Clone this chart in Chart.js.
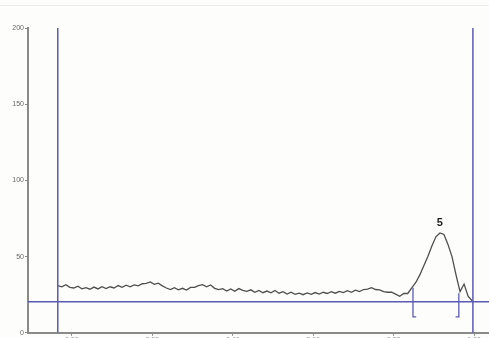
<!DOCTYPE html>
<html>
<head>
<meta charset="utf-8">
<script src="https://cdn.jsdelivr.net/npm/chart.js@4"></script>
<style>
  html, body { margin: 0; padding: 0; background: #fdfdfb; }
  #wrap { width: 489px; height: 338px; }
</style>
</head>
<body>
<div id="wrap"><canvas id="chart" width="489" height="338"></canvas></div>
<script>
// signal trace, sampled every 0.01 starting at the left marker
const traceStart = -0.035;
const traceStep = 0.01;
const traceY = [
  31, 30.2, 31.6, 29.8, 29.4, 30.6, 28.8, 29.6, 28.6, 30,
  28.8, 30.2, 29, 30.2, 29.4, 31, 29.8, 31.2, 30.2, 31.4,
  30.8, 32.2, 32.4, 33.4, 31.8, 32.6, 30.8, 29.4, 28.4, 29.6,
  28.2, 29.2, 28, 29.8, 29.8, 31, 31.6, 30.2, 31.4, 29.2,
  28.4, 29, 27.4, 28.8, 27.2, 29, 27.8, 27.2, 28.2, 26.6,
  27.8, 26.3, 27.4, 26.2, 27.8, 26, 27, 25.4, 26.6, 25.2,
  26, 25, 26.2, 25.2, 26.4, 25.4, 26.6, 25.8, 27, 26,
  27.2, 26.4, 27.6, 26.6, 28, 27, 28.4, 28.6, 29.6, 28.4,
  28.2, 27, 26.6, 26.6, 25.4, 24, 25.8, 25.8, 29.5, 33,
  38, 44, 50, 57, 63, 65.5, 64.5, 58, 50, 38,
  27, 32, 24, 21
];

const xTicks = [0, 0.2, 0.4, 0.6, 0.8, 1.0];
const yTicks = [0, 50, 100, 150, 200];
const xMin = -0.109, xMax = 1.037;

const baselineLevel = 20.4;
const markerX = [-0.035, 0.997];
const leftBracket = [[0.848, 29.5], [0.848, 10.5], [0.856, 10.5]];
const rightBracket = [[0.962, 26], [0.962, 10.5], [0.954, 10.5]];
const peakLabel = '5';
const peakIndex = 95;

const blue = '#5a5ab4';
const axisGray = '#8a8a8a';

const tracePts = traceY.map((v, i) => ({ x: traceStart + i * traceStep, y: v }));
const toPts = arr => arr.map(p => ({ x: p[0], y: p[1] }));

const lineSet = (data, color, width) => ({
  data: data, borderColor: color, borderWidth: width,
  pointRadius: 0, tension: 0, fill: false
});

const peakPlugin = {
  id: 'peakLabel',
  afterDatasetsDraw(chart) {
    const ctx = chart.ctx;
    const p = tracePts[peakIndex];
    const px = chart.scales.x.getPixelForValue(p.x);
    const py = chart.scales.y.getPixelForValue(p.y);
    ctx.save();
    ctx.fillStyle = '#222';
    ctx.font = 'bold 11px "Liberation Sans", Arial, sans-serif';
    ctx.textAlign = 'center';
    ctx.textBaseline = 'bottom';
    ctx.fillText(peakLabel, px, py - 5);
    ctx.restore();
  }
};

// faint rule left over from the page above the figure
const topRule = {
  id: 'topRule',
  beforeDraw(chart) {
    const ctx = chart.ctx;
    ctx.save();
    ctx.strokeStyle = '#ececec';
    ctx.lineWidth = 1;
    ctx.beginPath();
    ctx.moveTo(0, 5.5);
    ctx.lineTo(489, 5.5);
    ctx.stroke();
    ctx.restore();
  }
};

new Chart(document.getElementById('chart'), {
  type: 'line',
  data: {
    datasets: [
      lineSet([{ x: xMin, y: baselineLevel }, { x: xMax, y: baselineLevel }], blue, 1.5),
      lineSet([{ x: markerX[0], y: 0 }, { x: markerX[0], y: 200 }], blue, 1.5),
      lineSet([{ x: markerX[1], y: 0 }, { x: markerX[1], y: 200 }], blue, 1.5),
      lineSet(toPts(leftBracket), blue, 1.3),
      lineSet(toPts(rightBracket), blue, 1.3),
      lineSet(tracePts, '#4e4e4e', 1.3)
    ]
  },
  options: {
    responsive: false,
    animation: false,
    layout: { padding: { top: 28, right: 0, left: 0, bottom: 0 } },
    plugins: { legend: { display: false }, tooltip: { enabled: false } },
    scales: {
      x: {
        type: 'linear',
        min: xMin,
        max: xMax,
        afterBuildTicks: s => { s.ticks = xTicks.map(v => ({ value: v })); },
        afterFit: s => { s.height = 5; },
        grid: { drawOnChartArea: false, drawTicks: true, tickLength: 3, color: axisGray },
        border: { display: true, color: axisGray, width: 2 },
        ticks: {
          padding: 0,
          maxRotation: 0,
          color: '#666',
          font: { size: 7, family: '"Liberation Sans", Arial, sans-serif' },
          callback: v => v.toFixed(2)
        }
      },
      y: {
        min: 0,
        max: 200,
        afterBuildTicks: s => { s.ticks = yTicks.map(v => ({ value: v })); },
        afterFit: s => { s.width = 28; },
        grid: { drawOnChartArea: false, drawTicks: true, tickLength: 3, color: axisGray },
        border: { display: true, color: axisGray, width: 2 },
        ticks: {
          padding: 1,
          color: '#666',
          font: { size: 7, family: '"Liberation Sans", Arial, sans-serif' }
        }
      }
    }
  },
  plugins: [peakPlugin, topRule]
});
</script>
</body>
</html>
